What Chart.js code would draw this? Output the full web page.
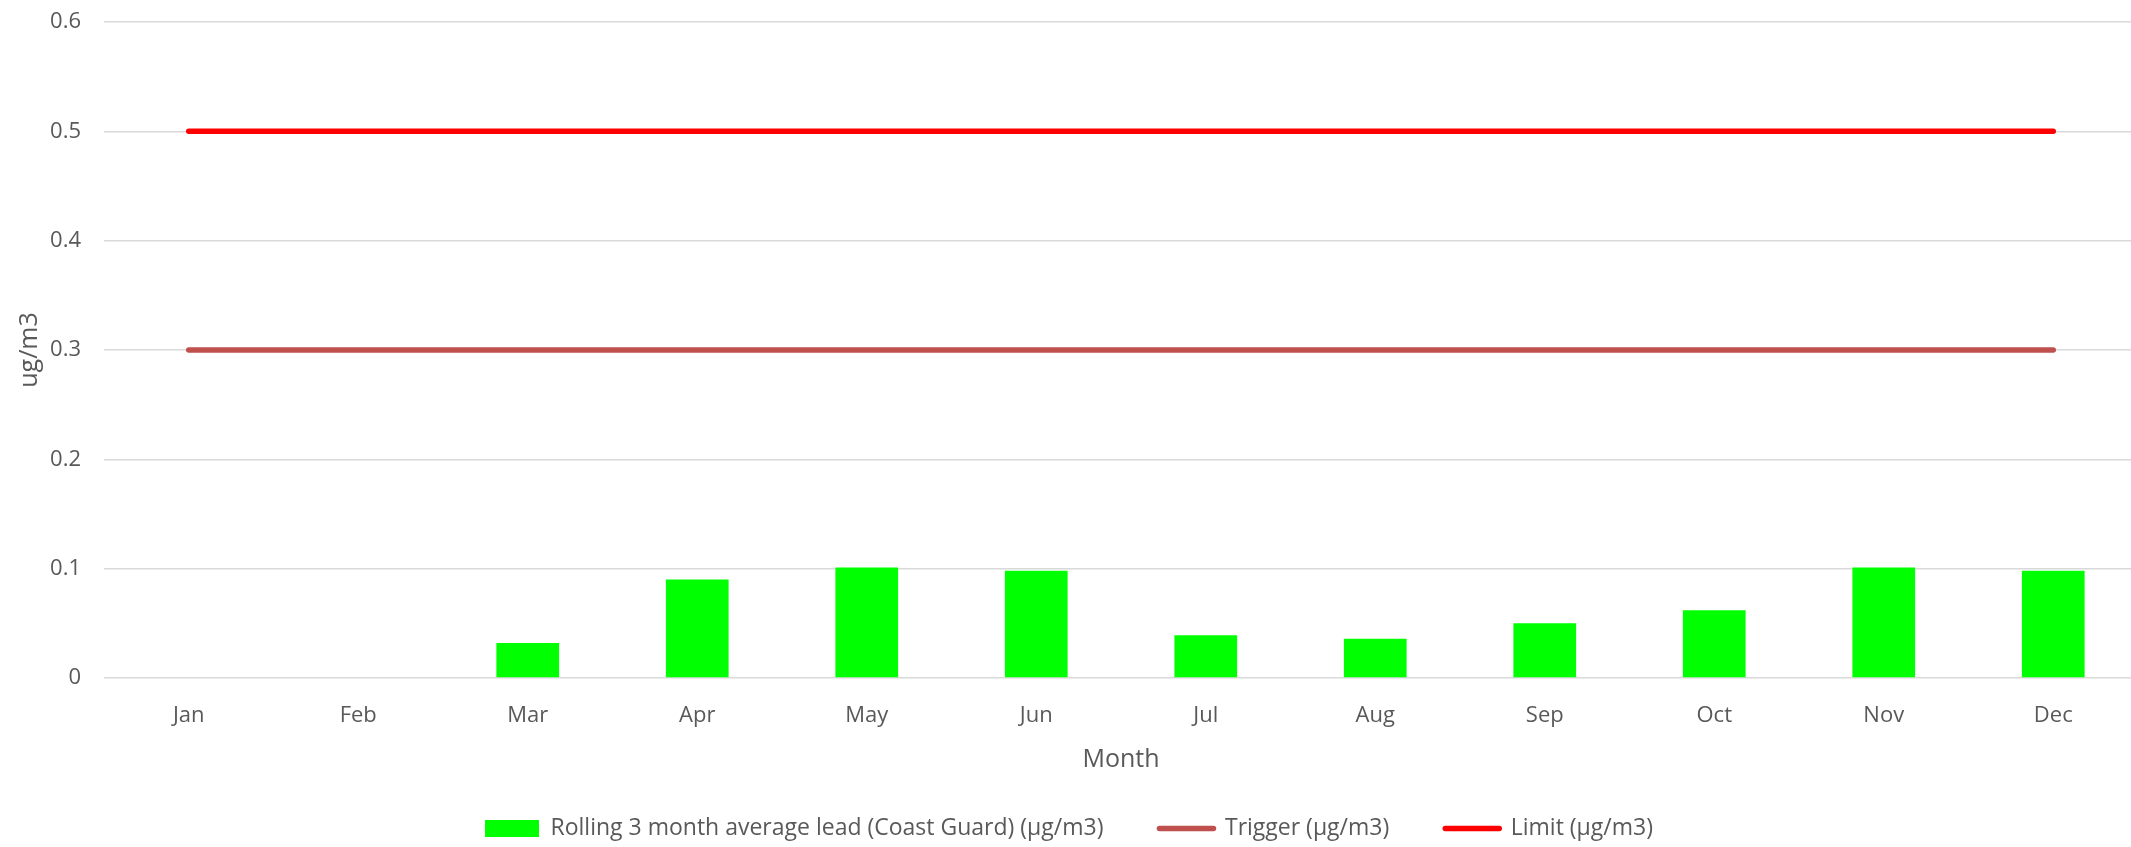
<!DOCTYPE html>
<html>
<head>
<meta charset="utf-8">
<script src="https://cdn.jsdelivr.net/npm/chart.js"></script>
<style>
  html, body { margin: 0; padding: 0; background: #fff; overflow: hidden; }
  #wrap { position: relative; width: 2140px; height: 847px; }
</style>
</head>
<body>
<div id="wrap"><canvas id="leadChart"></canvas></div>
<script>
// values
const months = ['Jan', 'Feb', 'Mar', 'Apr', 'May', 'Jun', 'Jul', 'Aug', 'Sep', 'Oct', 'Nov', 'Dec'];
const rollingLead = [null, null, 0.032, 0.090, 0.101, 0.098, 0.039, 0.036, 0.050, 0.062, 0.101, 0.098];
const triggerLevel = [0.3, 0.3, 0.3, 0.3, 0.3, 0.3, 0.3, 0.3, 0.3, 0.3, 0.3, 0.3];
const limitLevel = [0.5, 0.5, 0.5, 0.5, 0.5, 0.5, 0.5, 0.5, 0.5, 0.5, 0.5, 0.5];
const yTicks = [0, 0.1, 0.2, 0.3, 0.4, 0.5, 0.6];

const textColor = '#595959';
const fontFamily = "'Open Sans', 'Noto Sans', sans-serif";

Chart.defaults.font.family = fontFamily;
Chart.defaults.color = textColor;

// keep the legend a fixed height so its row sits near the bottom edge
const legendHeight = {
    id: 'legendHeight',
    beforeInit: function(chart) {
        const fit = chart.legend.fit;
        chart.legend.fit = function() {
            fit.call(this);
            this.height = 86;
        };
    }
};

const ctx = document.getElementById('leadChart').getContext('2d');
new Chart(ctx, {
    data: {
        labels: months,
        datasets: [{
            type: 'bar',
            label: 'Rolling 3 month average lead (Coast Guard) (\u00b5g/m3)',
            data: rollingLead,
            backgroundColor: '#00ff00',
            borderWidth: 0,
            barPercentage: 0.37,
            categoryPercentage: 1,
            order: 3
        }, {
            type: 'line',
            label: 'Trigger (\u00b5g/m3)',
            data: triggerLevel,
            borderColor: '#c0504d',
            backgroundColor: '#c0504d',
            borderWidth: 5.5,
            borderCapStyle: 'round',
            pointRadius: 0,
            fill: false,
            order: 2
        }, {
            type: 'line',
            label: 'Limit (\u00b5g/m3)',
            data: limitLevel,
            borderColor: '#ff0000',
            backgroundColor: '#ff0000',
            borderWidth: 5.5,
            borderCapStyle: 'round',
            pointRadius: 0,
            fill: false,
            order: 1
        }]
    },
    plugins: [legendHeight],
    options: {
        responsive: true,
        maintainAspectRatio: false,
        animation: false,
        layout: { padding: { top: 22, right: 2, left: 0, bottom: 0 } },
        plugins: {
            tooltip: { enabled: false },
            legend: {
                display: true,
                position: 'bottom',
                labels: {
                    usePointStyle: true,
                    pointStyleWidth: 54,
                    boxHeight: 17,
                    padding: 56,
                    color: textColor,
                    font: { size: 23 },
                    generateLabels: function(chart) {
                        return chart.data.datasets.map(function(ds, i) {
                            var isLine = ds.type === 'line';
                            return {
                                text: ds.label,
                                datasetIndex: i,
                                fillStyle: isLine ? ds.borderColor : ds.backgroundColor,
                                strokeStyle: isLine ? ds.borderColor : ds.backgroundColor,
                                lineWidth: isLine ? 5.5 : 0,
                                lineCap: 'round',
                                pointStyle: isLine ? 'line' : 'rect',
                                fontColor: textColor,
                                hidden: false
                            };
                        });
                    }
                }
            }
        },
        scales: {
            x: {
                afterFit: function(s) { s.height = 83; },
                grid: { display: false },
                border: { display: false },
                ticks: { padding: 17, font: { size: 22 }, color: textColor },
                title: {
                    display: true,
                    text: 'Month',
                    color: textColor,
                    font: { size: 25 },
                    padding: { top: 16, bottom: -14 }
                }
            },
            y: {
                min: 0,
                max: 0.6,
                afterFit: function(s) {
                    s.width = 104;
                    s.paddingTop = 0;
                    s.paddingBottom = 0;
                },
                afterBuildTicks: function(s) {
                    s.ticks = yTicks.map(function(v) { return { value: v }; });
                },
                grid: { color: '#d9d9d9', lineWidth: 1.5, drawTicks: false },
                border: { display: false },
                ticks: {
                    padding: 23,
                    font: { size: 22 },
                    color: textColor,
                    callback: function(v) { return String(Math.round(v * 10) / 10); }
                },
                title: {
                    display: true,
                    text: 'ug/m3',
                    color: textColor,
                    font: { size: 25 },
                    padding: { top: 15, bottom: 0 }
                }
            }
        }
    }
});
</script>
</body>
</html>
